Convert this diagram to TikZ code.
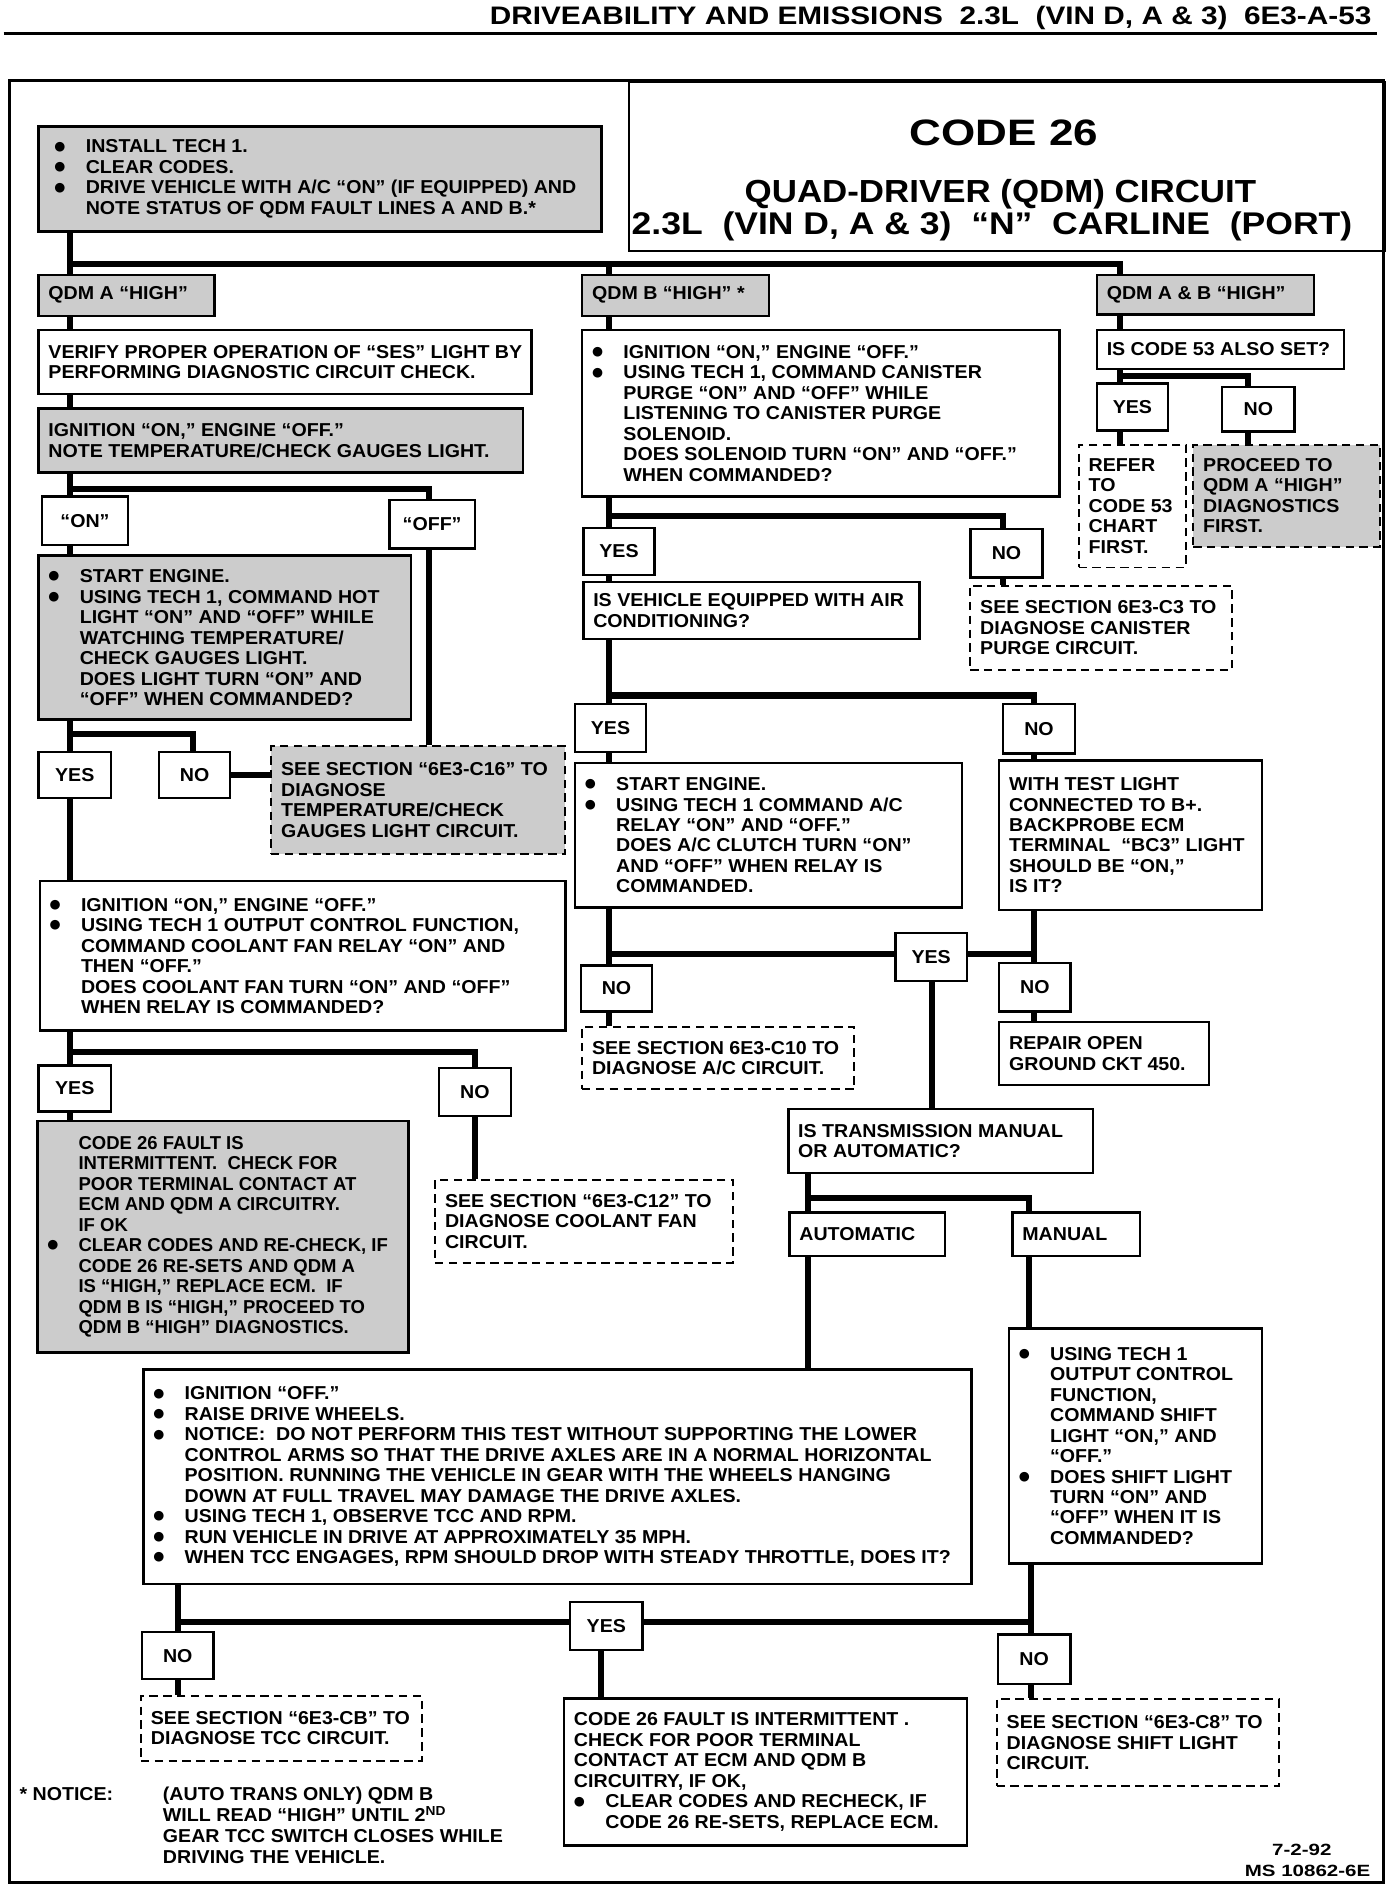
\documentclass[tikz,border=0pt]{standalone}
\usepackage{fontspec}
\usepackage{graphicx}
\setmainfont{Liberation Sans}[FakeStretch=1.05]
\newfontfamily\narrowfam{Liberation Sans}[FakeStretch=0.99]
\newfontfamily\dotfam{DejaVu Sans}
\usetikzlibrary{calc}
\pgfdeclarelayer{bg}
\pgfsetlayers{bg,main}
\newcommand\bodyfont{\fontsize{15.5}{17}\selectfont\bfseries}
\newcommand\shadefont{\narrowfam\fontsize{15.5}{17}\selectfont\bfseries}
\newcommand\bul{\makebox[26pt][l]{\raisebox{2.2pt}{\dotfam\fontsize{10.5}{10.5}\selectfont ●}}}
\newcommand\ind{\hspace*{26pt}}
\tikzset{
  wbox/.style={draw,line width=2pt,fill=white,inner sep=0pt},
  gbox/.style={draw,line width=2pt,fill=black!20,inner sep=0pt},
  dbox/.style={draw,line width=1.6pt,dash pattern=on 7pt off 4.5pt,fill=white,inner sep=0pt},
  dgbox/.style={dbox,fill=black!20},
  txt/.style={align=left,inner sep=0pt,font=\bodyfont},
  lbl/.style={wbox,font=\bodyfont},
  conn/.style={line width=5pt},
}
% box with left-aligned text: [text opts]{name}{style}{x1}{y1}{x2}{y2}{text}
\newcommand\bx[8][]{%
  \node[#3,anchor=north west,minimum width={#6-#4},minimum height={#7-#5}] (#2) at (#4,#5) {};
  \node[txt,#1,anchor=west] (#2-t) at ([xshift=9pt]#2.west) {#8};}
% label box with centred text
\newcommand\lb[6]{\node[lbl,anchor=north west,minimum width={#4-#2},minimum height={#5-#3}] (#1) at (#2,#3) {#6};}
\begin{document}
\begin{tikzpicture}[x=1pt,y=-1pt]
\useasboundingbox (0,0) rectangle (1155,1568);
% header
\node[anchor=base east,inner sep=0pt] (hdr) at (1138,20.7) {\fontsize{21}{21}\selectfont\bfseries\scalebox{1.12}[1]{DRIVEABILITY AND EMISSIONS\ \ 2.3L\ \ (VIN D, A \& 3)\ \ 6E3-A-53}};
\draw[line width=3pt] (3,27.7) -- (1142,27.7);
% title
\node[wbox,anchor=north west,minimum width=627,minimum height=140] (title) at (521,67) {};
\node[anchor=base,inner sep=0pt] (t1) at (833,121) {\fontsize{30.5}{30}\selectfont\bfseries\scalebox{1.14}[1]{CODE 26}};
\node[anchor=base,inner sep=0pt] (t2) at (830,167.6) {\fontsize{26.5}{26}\selectfont\bfseries\scalebox{1.04}[1]{QUAD-DRIVER (QDM) CIRCUIT}};
\node[anchor=base,inner sep=0pt] (t3) at (823,194.5) {\fontsize{26}{26}\selectfont\bfseries\scalebox{1.08}[1]{2.3L\ \ (VIN D, A \& 3)\ \ “N”\ \ CARLINE\ \ (PORT)}};

% x positions of the vertical runs
\coordinate (xA) at (58,0);
\coordinate (xB) at (505,0);
\coordinate (xAB) at (929,0);

% ---------- left column ----------
\bx[xshift=5pt]{inst}{gbox}{31}{104}{498}{191}{\bul INSTALL TECH 1.\\ \bul CLEAR CODES.\\ \bul DRIVE VEHICLE WITH A/C “ON” (IF EQUIPPED) AND\\ \ind NOTE STATUS OF QDM FAULT LINES A AND B.*}
\bx{qa}{gbox}{31}{227}{177}{261}{QDM A “HIGH”}
\bx{verify}{wbox}{31}{273}{440}{326}{VERIFY PROPER OPERATION OF “SES” LIGHT BY\\PERFORMING DIAGNOSTIC CIRCUIT CHECK.}
\bx{ign1}{gbox}{31}{338}{433}{391}{IGNITION “ON,” ENGINE “OFF.”\\NOTE TEMPERATURE/CHECK GAUGES LIGHT.}
\lb{on}{34}{411}{105}{451}{“ON”}
\lb{off}{322}{414}{393}{454}{“OFF”}
\bx{start1}{gbox}{31}{460}{340}{596}{\bul START ENGINE.\\ \bul USING TECH 1, COMMAND HOT\\ \ind LIGHT “ON” AND “OFF” WHILE\\ \ind WATCHING TEMPERATURE/\\ \ind CHECK GAUGES LIGHT.\\ \ind DOES LIGHT TURN “ON” AND\\ \ind “OFF” WHEN COMMANDED?}
\lb{yes1}{31}{623}{91}{661}{YES}
\lb{no1}{131}{623}{190}{661}{NO}
\bx{c16}{dgbox}{224}{618}{468}{708}{SEE SECTION “6E3-C16” TO\\DIAGNOSE\\TEMPERATURE/CHECK\\GAUGES LIGHT CIRCUIT.}
\bx{ign2}{wbox}{32}{730}{468}{854}{\bul IGNITION “ON,” ENGINE “OFF.”\\ \bul USING TECH 1 OUTPUT CONTROL FUNCTION,\\ \ind COMMAND COOLANT FAN RELAY “ON” AND\\ \ind THEN “OFF.”\\ \ind DOES COOLANT FAN TURN “ON” AND “OFF”\\ \ind WHEN RELAY IS COMMANDED?}
\lb{yes2}{31}{883}{91}{921}{YES}
\lb{no2}{363}{885}{423}{925}{NO}
\bx[font=\shadefont]{code26a}{gbox}{30}{929}{338}{1121}{\ind CODE 26 FAULT IS\\ \ind INTERMITTENT.\ \ CHECK FOR\\ \ind POOR TERMINAL CONTACT AT\\ \ind ECM AND QDM A CIRCUITRY.\\ \ind IF OK\\ \bul CLEAR CODES AND RE-CHECK, IF\\ \ind CODE 26 RE-SETS AND QDM A\\ \ind IS “HIGH,” REPLACE ECM.\ \ IF\\ \ind QDM B IS “HIGH,” PROCEED TO\\ \ind QDM B “HIGH” DIAGNOSTICS.}
\bx{c12}{dbox}{360}{978}{607}{1047}{SEE SECTION “6E3-C12” TO\\DIAGNOSE COOLANT FAN\\CIRCUIT.}

% ---------- middle column ----------
\bx{qb}{gbox}{482}{227}{637}{261}{QDM B “HIGH” *}
\bx{purge}{wbox}{482}{273}{878}{411}{\bul IGNITION “ON,” ENGINE “OFF.”\\ \bul USING TECH 1, COMMAND CANISTER\\ \ind PURGE “ON” AND “OFF” WHILE\\ \ind LISTENING TO CANISTER PURGE\\ \ind SOLENOID.\\ \ind DOES SOLENOID TURN “ON” AND “OFF.”\\ \ind WHEN COMMANDED?}
\lb{yesb1}{483}{437}{542}{476}{YES}
\lb{nob1}{804}{438}{864}{478}{NO}
\bx{isveh}{wbox}{483}{482}{762}{529}{IS VEHICLE EQUIPPED WITH AIR\\CONDITIONING?}
\bx{c3}{dbox}{804}{485}{1021}{555}{SEE SECTION 6E3-C3 TO\\DIAGNOSE CANISTER\\PURGE CIRCUIT.}
\lb{yesb2}{476}{583}{535}{623}{YES}
\lb{nob2}{831}{583}{891}{624}{NO}
\bx{start2}{wbox}{476}{632}{797}{752}{\bul START ENGINE.\\ \bul USING TECH 1 COMMAND A/C\\ \ind RELAY “ON” AND “OFF.”\\ \ind DOES A/C CLUTCH TURN “ON”\\ \ind AND “OFF” WHEN RELAY IS\\ \ind COMMANDED.}
\bx{wtest}{wbox}{828}{630}{1046}{754}{WITH TEST LIGHT\\CONNECTED TO B+.\\BACKPROBE ECM\\TERMINAL\ \ “BC3” LIGHT\\SHOULD BE “ON,”\\IS IT?}
\lb{yesb3}{742}{773}{801}{813}{YES}
\lb{nob3}{481}{800}{540}{838}{NO}
\lb{nob4}{828}{798}{887}{838}{NO}
\bx{c10}{dbox}{482}{851}{708}{903}{SEE SECTION 6E3-C10 TO\\DIAGNOSE A/C CIRCUIT.}
\bx{repair}{wbox}{828}{847}{1002}{899}{REPAIR OPEN\\GROUND CKT 450.}
\bx{istrans}{wbox}{653}{919}{906}{972}{IS TRANSMISSION MANUAL\\OR AUTOMATIC?}
\bx{auto}{wbox}{654}{1005}{783}{1041}{AUTOMATIC}
\bx{manual}{wbox}{839}{1005}{945}{1041}{MANUAL}
\bx{using}{wbox}{836}{1101}{1046}{1296}{\bul USING TECH 1\\ \ind OUTPUT CONTROL\\ \ind FUNCTION,\\ \ind COMMAND SHIFT\\ \ind LIGHT “ON,” AND\\ \ind “OFF.”\\ \bul DOES SHIFT LIGHT\\ \ind TURN “ON” AND\\ \ind “OFF” WHEN IT IS\\ \ind COMMANDED?}
\bx{notice}{wbox}{118}{1135}{805}{1313}{\bul IGNITION “OFF.”\\ \bul RAISE DRIVE WHEELS.\\ \bul NOTICE:\ \ DO NOT PERFORM THIS TEST WITHOUT SUPPORTING THE LOWER\\ \ind CONTROL ARMS SO THAT THE DRIVE AXLES ARE IN A NORMAL HORIZONTAL\\ \ind POSITION. RUNNING THE VEHICLE IN GEAR WITH THE WHEELS HANGING\\ \ind DOWN AT FULL TRAVEL MAY DAMAGE THE DRIVE AXLES.\\ \bul USING TECH 1, OBSERVE TCC AND RPM.\\ \bul RUN VEHICLE IN DRIVE AT APPROXIMATELY 35 MPH.\\ \bul WHEN TCC ENGAGES, RPM SHOULD DROP WITH STEADY THROTTLE, DOES IT?}
\lb{yes5}{472}{1328}{532}{1368}{YES}
\lb{no5}{117}{1353}{176}{1392}{NO}
\lb{no6}{827}{1355}{887}{1396}{NO}
\bx{cb}{dbox}{116}{1406}{349}{1460}{SEE SECTION “6E3-CB” TO\\DIAGNOSE TCC CIRCUIT.}
\bx{code26b}{wbox}{467}{1408}{801}{1530}{CODE 26 FAULT IS INTERMITTENT .\\CHECK FOR POOR TERMINAL\\CONTACT AT ECM AND QDM B\\CIRCUITRY, IF OK,\\ \bul CLEAR CODES AND RECHECK, IF\\ \ind CODE 26 RE-SETS, REPLACE ECM.}
\bx{c8}{dbox}{826}{1409}{1060}{1481}{SEE SECTION “6E3-C8” TO\\DIAGNOSE SHIFT LIGHT\\CIRCUIT.}

% ---------- right column ----------
\bx{qab}{gbox}{909}{227}{1089}{260}{QDM A \& B “HIGH”}
\bx{code53}{wbox}{909}{273}{1114}{305}{IS CODE 53 ALSO SET?}
\lb{yesab}{909}{317}{968}{356}{YES}
\lb{noab}{1013}{320}{1073}{357}{NO}
\bx{refer}{dbox}{894}{368}{983}{470}{REFER\\TO\\CODE 53\\CHART\\FIRST.}
\bx{proceed}{dgbox}{989}{368}{1144}{453}{PROCEED TO\\QDM A “HIGH”\\DIAGNOSTICS\\FIRST.}

% footnote and footer
\node[txt,anchor=base west] (fn1) at (16,1493.5) {* NOTICE:};
\node[txt,font=\fontsize{15.5}{17.6}\selectfont\bfseries,anchor=north west] (fn2) at (135,1482) {(AUTO TRANS ONLY) QDM B\\WILL READ “HIGH” UNTIL 2\textsuperscript{ND}\\GEAR TCC SWITCH CLOSES WHILE\\DRIVING THE VEHICLE.};
\node[anchor=base,inner sep=0pt,font=\fontsize{13.5}{14}\selectfont\bfseries] (date) at (1080,1539.5) {\scalebox{1.2}[1]{7-2-92}};
\node[anchor=base east,inner sep=0pt,font=\fontsize{13.5}{14}\selectfont\bfseries] (ms) at (1137,1557) {\scalebox{1.2}[1]{MS 10862-6E}};

% ---------- connectors ----------
\begin{pgfonlayer}{bg}
\coordinate (xoff) at (356,0);
\coordinate (xno1) at (160,0);
\coordinate (xno2) at (394,0);
\coordinate (xnob1) at (832,0);
\coordinate (xnob2) at (858,0);
\coordinate (xy3) at (773,0);
\coordinate (xauto) at (670,0);
\coordinate (xman) at (854,0);
\coordinate (xL) at (148,0);
\coordinate (xR) at (855,0);
\coordinate (xy5) at (499,0);
\coordinate (xnoab) at (1035,0);
\coordinate (tb) at (58,219);
\coordinate (sp1) at (58,405.5);
\coordinate (sp2) at (58,609);
\coordinate (sp3) at (58,873);
\coordinate (sp4) at (505,428);
\coordinate (sp5) at (505,577);
\coordinate (sp6) at (505,791.5);
\coordinate (sp7) at (670,994);
\coordinate (sp8) at (148,1346);
\coordinate (sp9) at (929,312);
% left
\draw[conn] (inst.south -| xA) -- (qa.north -| xA);
\draw[conn] (tb) -| (qab.north -| xAB);
\draw[conn] (qb.north -| xB) -- (tb -| xB);
\draw[conn] (qa.south -| xA) -- (verify.north -| xA);
\draw[conn] (verify.south -| xA) -- (ign1.north -| xA);
\draw[conn] (ign1.south -| xA) -- (on.north -| xA);
\draw[conn] (sp1) -| (off.north -| xoff);
\draw[conn] (on.south -| xA) -- (start1.north -| xA);
\draw[conn] (off.south -| xoff) -- (c16.north -| xoff);
\draw[conn] (start1.south -| xA) -- (yes1.north -| xA);
\draw[conn] (sp2) -| (no1.north -| xno1);
\draw[conn] (no1.east) -- (c16.west |- no1.east);
\draw[conn] (yes1.south -| xA) -- (ign2.north -| xA);
\draw[conn] (ign2.south -| xA) -- (yes2.north -| xA);
\draw[conn] (sp3) -| (no2.north -| xno2);
\draw[conn] (yes2.south -| xA) -- (code26a.north -| xA);
\draw[conn] (no2.south -| xno2) -- (c12.north -| xno2);
% middle
\draw[conn] (qb.south -| xB) -- (purge.north -| xB);
\draw[conn] (purge.south -| xB) -- (yesb1.north -| xB);
\draw[conn] (sp4) -| (nob1.north -| xnob1);
\draw[conn] (nob1.south -| xnob1) -- (c3.north -| xnob1);
\draw[conn] (yesb1.south -| xB) -- (isveh.north -| xB);
\draw[conn] (isveh.south -| xB) -- (yesb2.north -| xB);
\draw[conn] (sp5) -| (nob2.north -| xnob2);
\draw[conn] (yesb2.south -| xB) -- (start2.north -| xB);
\draw[conn] (nob2.south -| xnob2) -- (wtest.north -| xnob2);
\draw[conn] (start2.south -| xB) -- (nob3.north -| xB);
\draw[conn] (wtest.south -| xnob2) -- (nob4.north -| xnob2);
\draw[conn] (sp6) -- (sp6 -| xnob2);
\draw[conn] (nob3.south -| xB) -- (c10.north -| xB);
\draw[conn] (nob4.south -| xnob2) -- (repair.north -| xnob2);
\draw[conn] (yesb3.south -| xy3) -- (istrans.north -| xy3);
\draw[conn] (istrans.south -| xauto) -- (auto.north -| xauto);
\draw[conn] (sp7) -| (manual.north -| xman);
\draw[conn] (auto.south -| xauto) -- (notice.north -| xauto);
\draw[conn] (manual.south -| xman) -- (using.north -| xman);
\draw[conn] (notice.south -| xL) -- (no5.north -| xL);
\draw[conn] (using.south -| xR) -- (no6.north -| xR);
\draw[conn] (sp8) -- (sp8 -| xR);
\draw[conn] (yes5.south -| xy5) -- (code26b.north -| xy5);
\draw[conn] (no5.south -| xL) -- (cb.north -| xL);
\draw[conn] (no6.south -| xR) -- (c8.north -| xR);
% right
\draw[conn] (qab.south -| xAB) -- (code53.north -| xAB);
\draw[conn] (code53.south -| xAB) -- (yesab.north -| xAB);
\draw[conn] (sp9) -| (noab.north -| xnoab);
\draw[conn] (yesab.south -| xAB) -- (refer.north -| xAB);
\draw[conn] (noab.south -| xnoab) -- (proceed.north -| xnoab);
\end{pgfonlayer}

% outer frame
\draw[line width=2.5pt] (7.5,67) rectangle (1148,1562);
\end{tikzpicture}
\end{document}
